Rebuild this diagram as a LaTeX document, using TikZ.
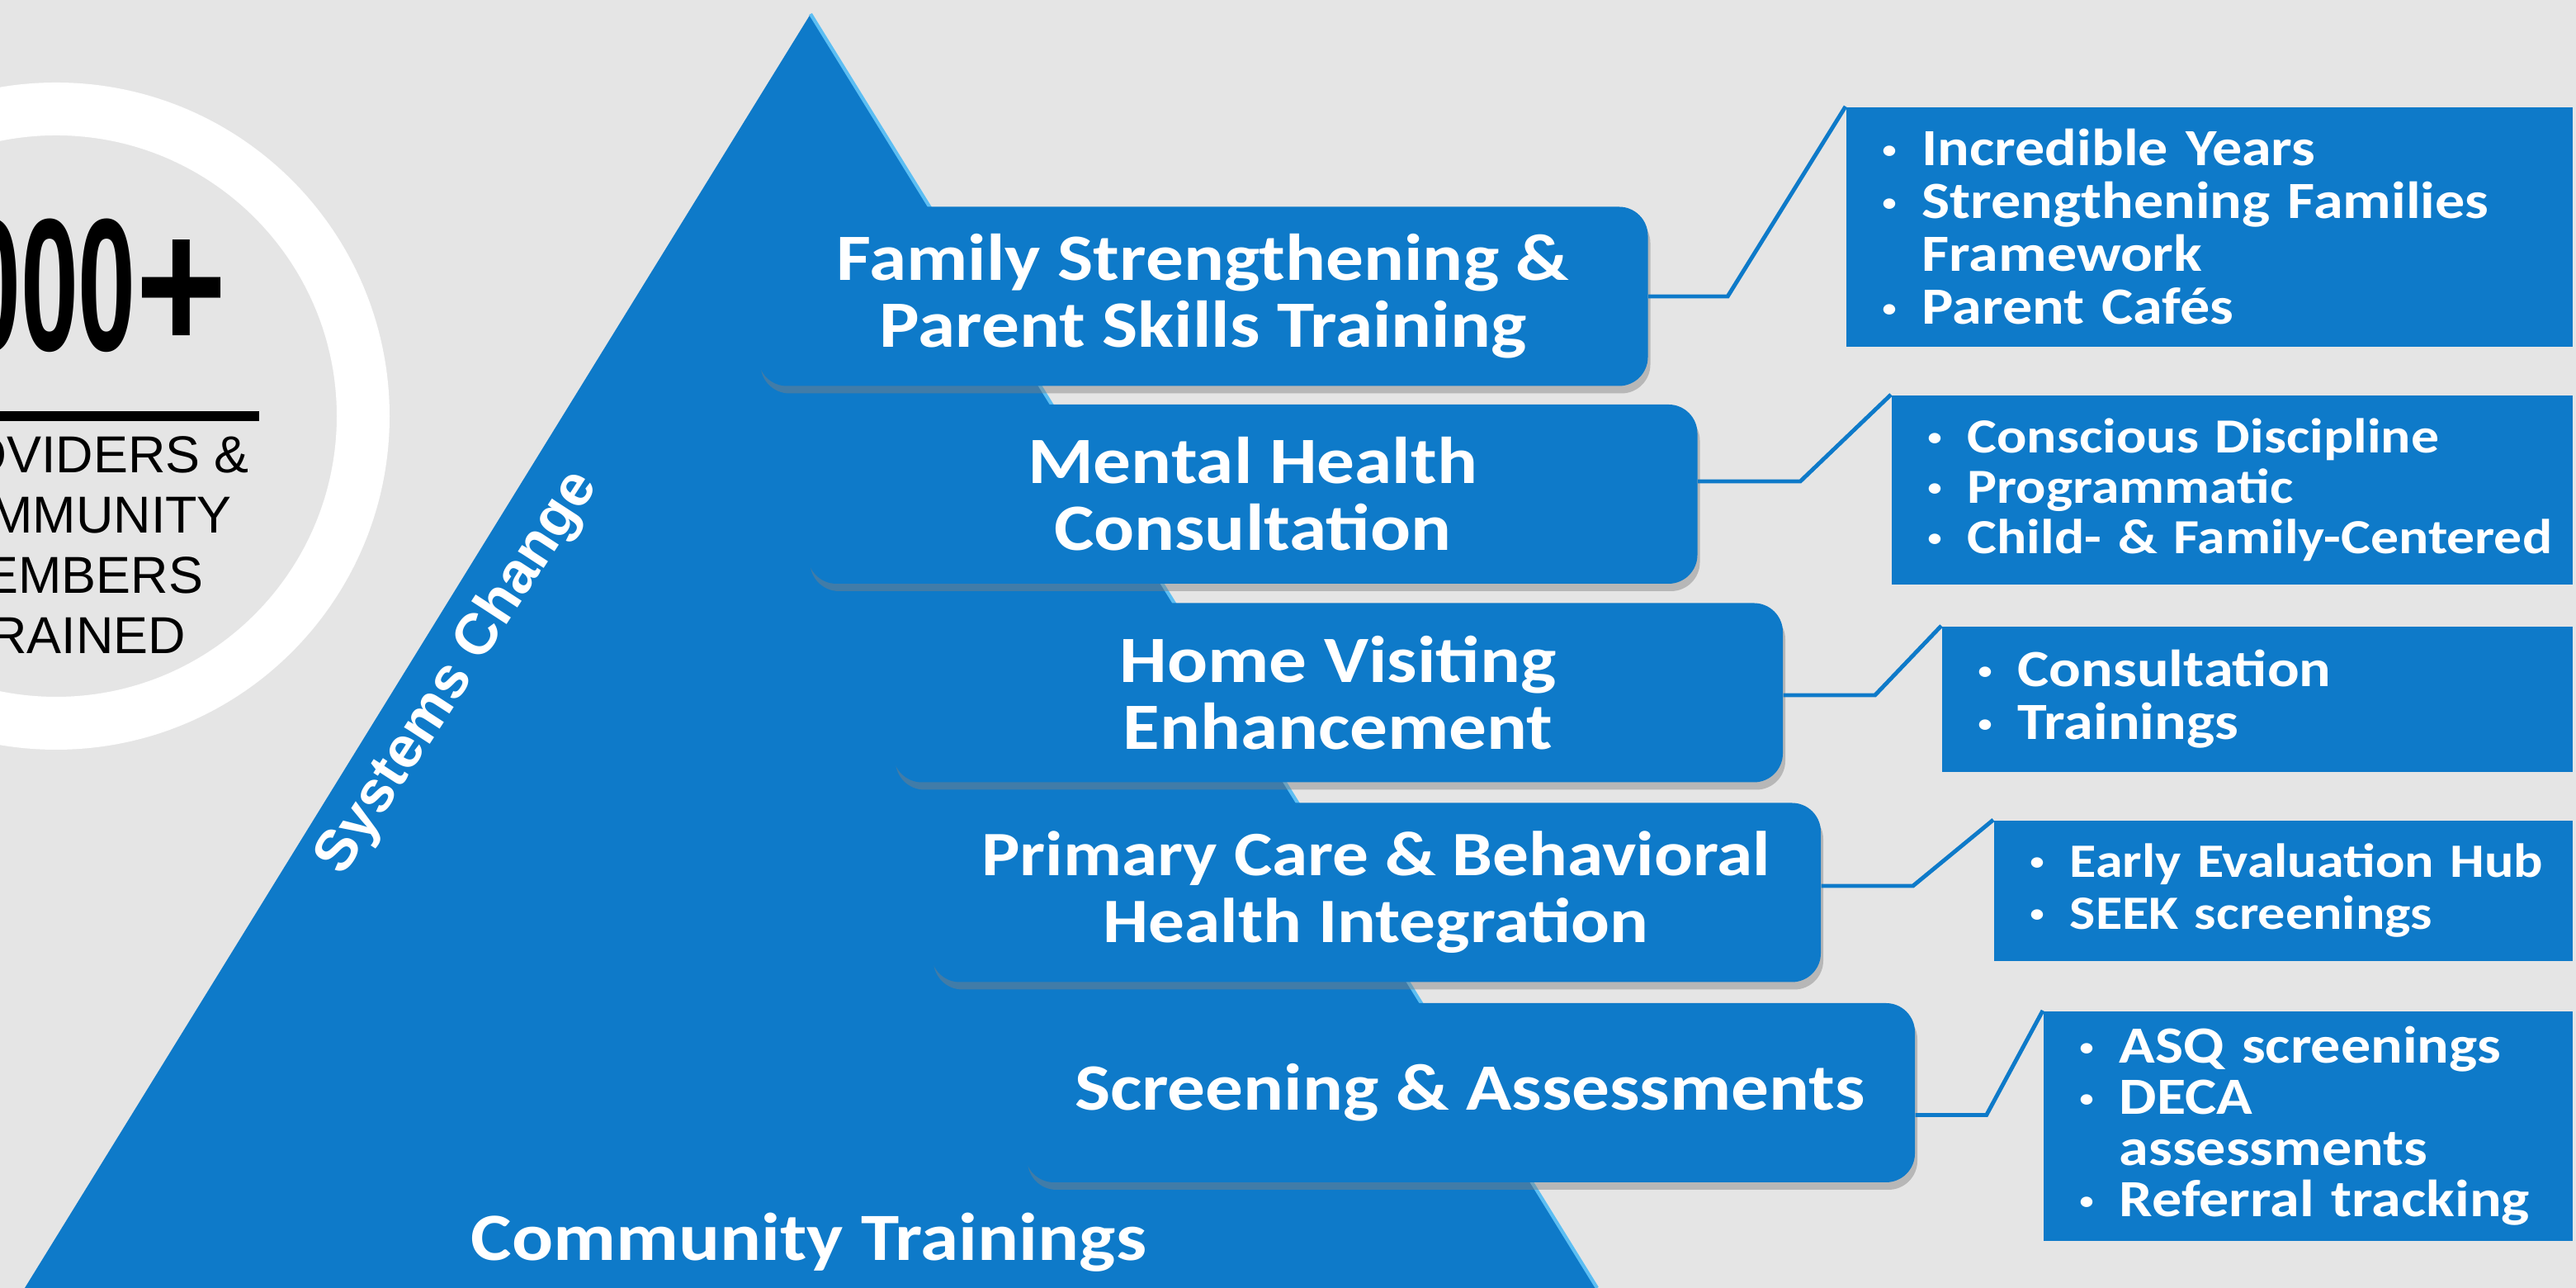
\documentclass[tikz,border=0pt]{standalone}
\usepackage{fontspec}
\usetikzlibrary{shadows}
\setmainfont{Liberation Sans}
\newfontfamily\calib{Carlito}[FakeStretch=1.14]
\newfontfamily\bignum{Liberation Sans}[FakeStretch=0.55]
\newfontfamily\bigplus{Liberation Sans}[FakeStretch=0.83]

\definecolor{tierblue}{RGB}{14,122,201}
\definecolor{bggray}{RGB}{229,229,229}
\definecolor{edgeblue}{RGB}{92,190,243}

% bullet lines for the side boxes
\newcommand{\dotb}{\raisebox{0.09cm}{\fontsize{8.5}{8.5}\selectfont\textbullet}}
\newcommand{\itm}[1]{\mbox{\makebox[0.48cm][l]{\dotb}#1}}
\newcommand{\cnt}[1]{\mbox{\hspace*{0.48cm}#1}}

\tikzset{
  tier/.style={fill=tierblue, rounded corners=0.35cm, minimum width=10.78cm,
    minimum height=2.17cm, text=white, align=center,
    font=\calib\bfseries\fontsize{22.8}{23}\selectfont,
    drop shadow={shadow xshift=0.03cm, shadow yshift=-0.09cm, opacity=0.45}},
  sub/.style={fill=tierblue, anchor=north west, text=white, align=left,
    inner xsep=0.44cm, text width=#1,
    font=\calib\bfseries\fontsize{18}{18.2}\selectfont},
  link/.style={draw=tierblue, line width=1.4pt}
}

\begin{document}
\begin{tikzpicture}
    \useasboundingbox (0,0) rectangle (31.21,15.6);
    \clip (0,0) rectangle (31.21,15.6);
    \fill[bggray] (0,0) rectangle (31.21,15.6);

    % ring with the count
    \draw[white, line width=0.64cm] (0.68,10.56) circle (3.72);
    \node[anchor=base west, inner sep=0pt, font=\bignum\bfseries\fontsize{65}{65}\selectfont] (count) at (-0.455,11.35) {000{\bigplus\bfseries +}};
    \draw[line width=0.12cm] (0,10.56) -- (3.14,10.56);
    \node[align=center, font=\fontsize{17.9}{20.8}\selectfont] (trained) at (0.87,9.00) {PROVIDERS \&\\COMMUNITY\\MEMBERS\\TRAINED};

    % pyramid
    \fill[tierblue] (9.82,15.43) coordinate (apex) -- (0.30,0) coordinate (footL) -- (19.35,0) coordinate (footR) -- cycle;
    \draw[edgeblue, line width=1.2pt] (apex) -- (footR);
    \node[rotate=57, text=white, font=\bfseries\fontsize{20}{20}\selectfont] (sys) at (5.55,7.45) {Systems Change};
    \node[anchor=base, text=white, font=\calib\bfseries\fontsize{23.3}{23.3}\selectfont] (comm) at (9.80,0.33) {Community Trainings};

    % tiers
    \node[tier] (fam) at (14.575,12.01) {Family Strengthening \&\\Parent Skills Training};
    \node[tier] (mhc) at (15.175,9.615) {Mental Health\\Consultation};
    \node[tier] (home) at (16.21,7.21) {Home Visiting\\Enhancement};
    \node[tier, font=\calib\bfseries\fontsize{21.8}{23}\selectfont] (prim) at (16.67,4.79) {Primary Care \& Behavioral\\Health Integration};
    \node[tier] (scr) at (17.81,2.365) {Screening \& Assessments};

    % side boxes
    \node[sub=7.92cm, minimum height=2.9cm] (famR) at (22.36,14.31) {\itm{Incredible Years}\\\itm{Strengthening Families}\\\cnt{Framework}\\\itm{Parent Cafés}};
    \node[sub=7.37cm, minimum height=2.29cm, font=\calib\bfseries\fontsize{16.9}{17.4}\selectfont] (mhcR) at (22.91,10.82) {\itm{Conscious Discipline}\\\itm{Programmatic}\\\itm{Child- \& Family-Centered}};
    \node[sub=6.76cm, minimum height=1.76cm] (homeR) at (23.52,8.02) {\itm{Consultation}\\\itm{Trainings}};
    \node[sub=6.13cm, minimum height=1.70cm, font=\calib\bfseries\fontsize{16.5}{17.8}\selectfont] (primR) at (24.15,5.67) {\itm{Early Evaluation Hub}\\\itm{SEEK screenings}};
    \node[sub=5.53cm, minimum height=2.78cm, font=\calib\bfseries\fontsize{18}{17.6}\selectfont] (scrR) at (24.75,3.36) {\itm{ASQ screenings}\\\itm{DECA}\\\cnt{assessments}\\\itm{Referral tracking}};

    % links
    \draw[link] (fam.east) -- ++(0.96,0) -- (famR.north west);
    \draw[link] ([yshift=0.155cm]mhc.east) -- ++(1.24,0) -- (mhcR.north west);
    \draw[link] ([yshift=-0.03cm]home.east) -- ++(1.11,0) -- (homeR.north west);
    \draw[link] ([yshift=0.08cm]prim.east) -- ++(1.11,0) -- (primR.north west);
    \draw[link] ([yshift=-0.27cm]scr.east) -- ++(0.86,0) -- (scrR.north west);
\end{tikzpicture}
\end{document}
